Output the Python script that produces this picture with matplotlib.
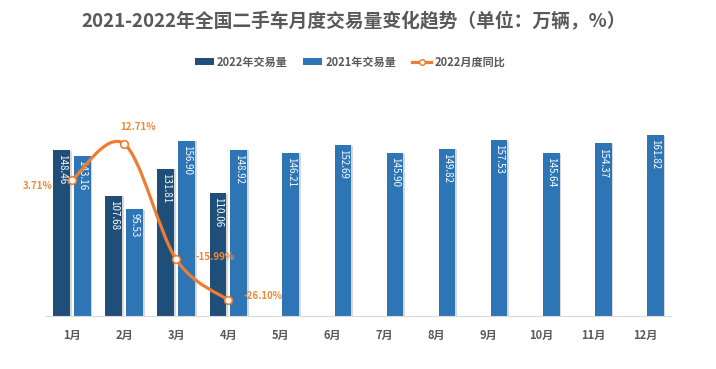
import matplotlib
matplotlib.use("Agg")
import matplotlib.pyplot as plt
import matplotlib.patheffects as pe
from matplotlib.path import Path
from matplotlib.patches import PathPatch
from matplotlib.lines import Line2D
from matplotlib.patches import Patch
import numpy as np

plt.rcParams["font.family"] = ["Noto Sans CJK SC", "DejaVu Sans"]

months = ["1月", "2月", "3月", "4月", "5月", "6月", "7月", "8月", "9月", "10月", "11月", "12月"]
vol_2022 = [148.46, 107.68, 131.81, 110.06]
vol_2021 = [143.16, 95.53, 156.90, 148.92, 146.21, 152.69, 145.90, 149.82, 157.53, 145.64, 154.37, 161.82]
yoy_2022 = [3.71, 12.71, -15.99, -26.10]
yoy_labels = ["3.71%", "12.71%", "-15.99%", "-26.10%"]

c_dark = "#1F4E79"
c_light = "#2E75B6"
c_line = "#ED7D31"
c_text = "#595959"

W, H = 716, 369
fig = plt.figure(figsize=(W / 100, H / 100), dpi=100)
left, right, bottom, top = 46, 671, 316, 92
ax = fig.add_axes([left / W, 1 - bottom / H, (right - left) / W, (bottom - top) / H])

x = np.arange(len(months))
bw = 0.32
off = 0.2
shadow = [pe.SimplePatchShadow(offset=(1.2, -0.6), shadow_rgbFace="gray", alpha=0.3), pe.Normal()]

b22 = ax.bar(x[:len(vol_2022)] - off, vol_2022, bw, color=c_dark, zorder=2)
b21 = ax.bar(x + off, vol_2021, bw, color=c_light, zorder=2)
for b in list(b22) + list(b21):
    b.set_path_effects(shadow)

for bars, vals in ((b22, vol_2022), (b21, vol_2021)):
    for b, v in zip(bars, vals):
        ax.annotate(f"{v:.2f}", (b.get_x() + b.get_width() / 2, v), xytext=(0, -3),
                    textcoords="offset points", rotation=-90, ha="center", va="top",
                    color="white", fontsize=7, zorder=3)

ax.set_xlim(-0.5, 11.5)
ax.set_ylim(0, (bottom - top) / 1.118)
ax.set_yticks([])
ax.set_xticks(x)
ax.set_xticklabels(months, fontsize=8, fontweight="bold", color=c_text)
ax.tick_params(axis="x", length=0, pad=9)
for s in ("top", "right", "left"):
    ax.spines[s].set_visible(False)
ax.spines["bottom"].set_color("#D9D9D9")

# secondary axis for the yoy line
ax2 = ax.twinx()
px_per = 4.025
zero_px = 195
ax2.set_ylim(-(bottom - zero_px) / px_per, (zero_px - top) / px_per)
ax2.set_axis_off()

# smooth line (Catmull-Rom -> Bezier)
px = x[:len(yoy_2022)].astype(float)
py = np.array(yoy_2022, dtype=float)
pts = np.column_stack([px, py])
verts = [pts[0]]
codes = [Path.MOVETO]
n = len(pts)
for i in range(n - 1):
    p0 = pts[i - 1] if i > 0 else pts[i]
    p1 = pts[i]
    p2 = pts[i + 1]
    p3 = pts[i + 2] if i + 2 < n else pts[i + 1]
    c1 = p1 + (p2 - p0) / 6
    c2 = p2 - (p3 - p1) / 6
    verts += [c1, c2, p2]
    codes += [Path.CURVE4] * 3
ax2.add_patch(PathPatch(Path(verts, codes), fill=False, edgecolor=c_line, lw=2.3, zorder=4,
                        capstyle="round"))
ax2.plot(px, py, linestyle="none", marker="o", ms=5.5, mfc="white", mec=c_line, mew=1.2, zorder=5)

offsets = [(-14, -4, "right"), (10, 12, "center"), (14, 2, "left"), (11, 3, "left")]
for xi, yi, lab, (dx, dy, ha) in zip(px, py, yoy_labels, offsets):
    ax2.annotate(lab, (xi, yi), xytext=(dx, dy), textcoords="offset points", ha=ha, va="center",
                 color="#F0883A", fontsize=7, fontweight="bold", zorder=6)

fig.text(0.4935, 1 - 22 / H, "2021-2022年全国二手车月度交易量变化趋势（单位：万辆，%）",
         ha="center", va="center", fontsize=13.5, fontweight="bold", color=c_text)

handles = [Patch(facecolor=c_dark), Patch(facecolor=c_light),
           Line2D([], [], color=c_line, lw=2.3, marker="o", ms=4, mfc="white", mec=c_line)]
leg = fig.legend(handles, ["2022年交易量", "2021年交易量", "2022月度同比"], loc="center",
                 bbox_to_anchor=(350 / W, 1 - 62 / H), ncol=3, frameon=False,
                 prop={"size": 8, "weight": "bold"}, handlelength=1.7, handleheight=0.6,
                 columnspacing=1.4, handletextpad=0.3)
for t in leg.get_texts():
    t.set_color(c_text)

fig.savefig("out.png", dpi=100)
